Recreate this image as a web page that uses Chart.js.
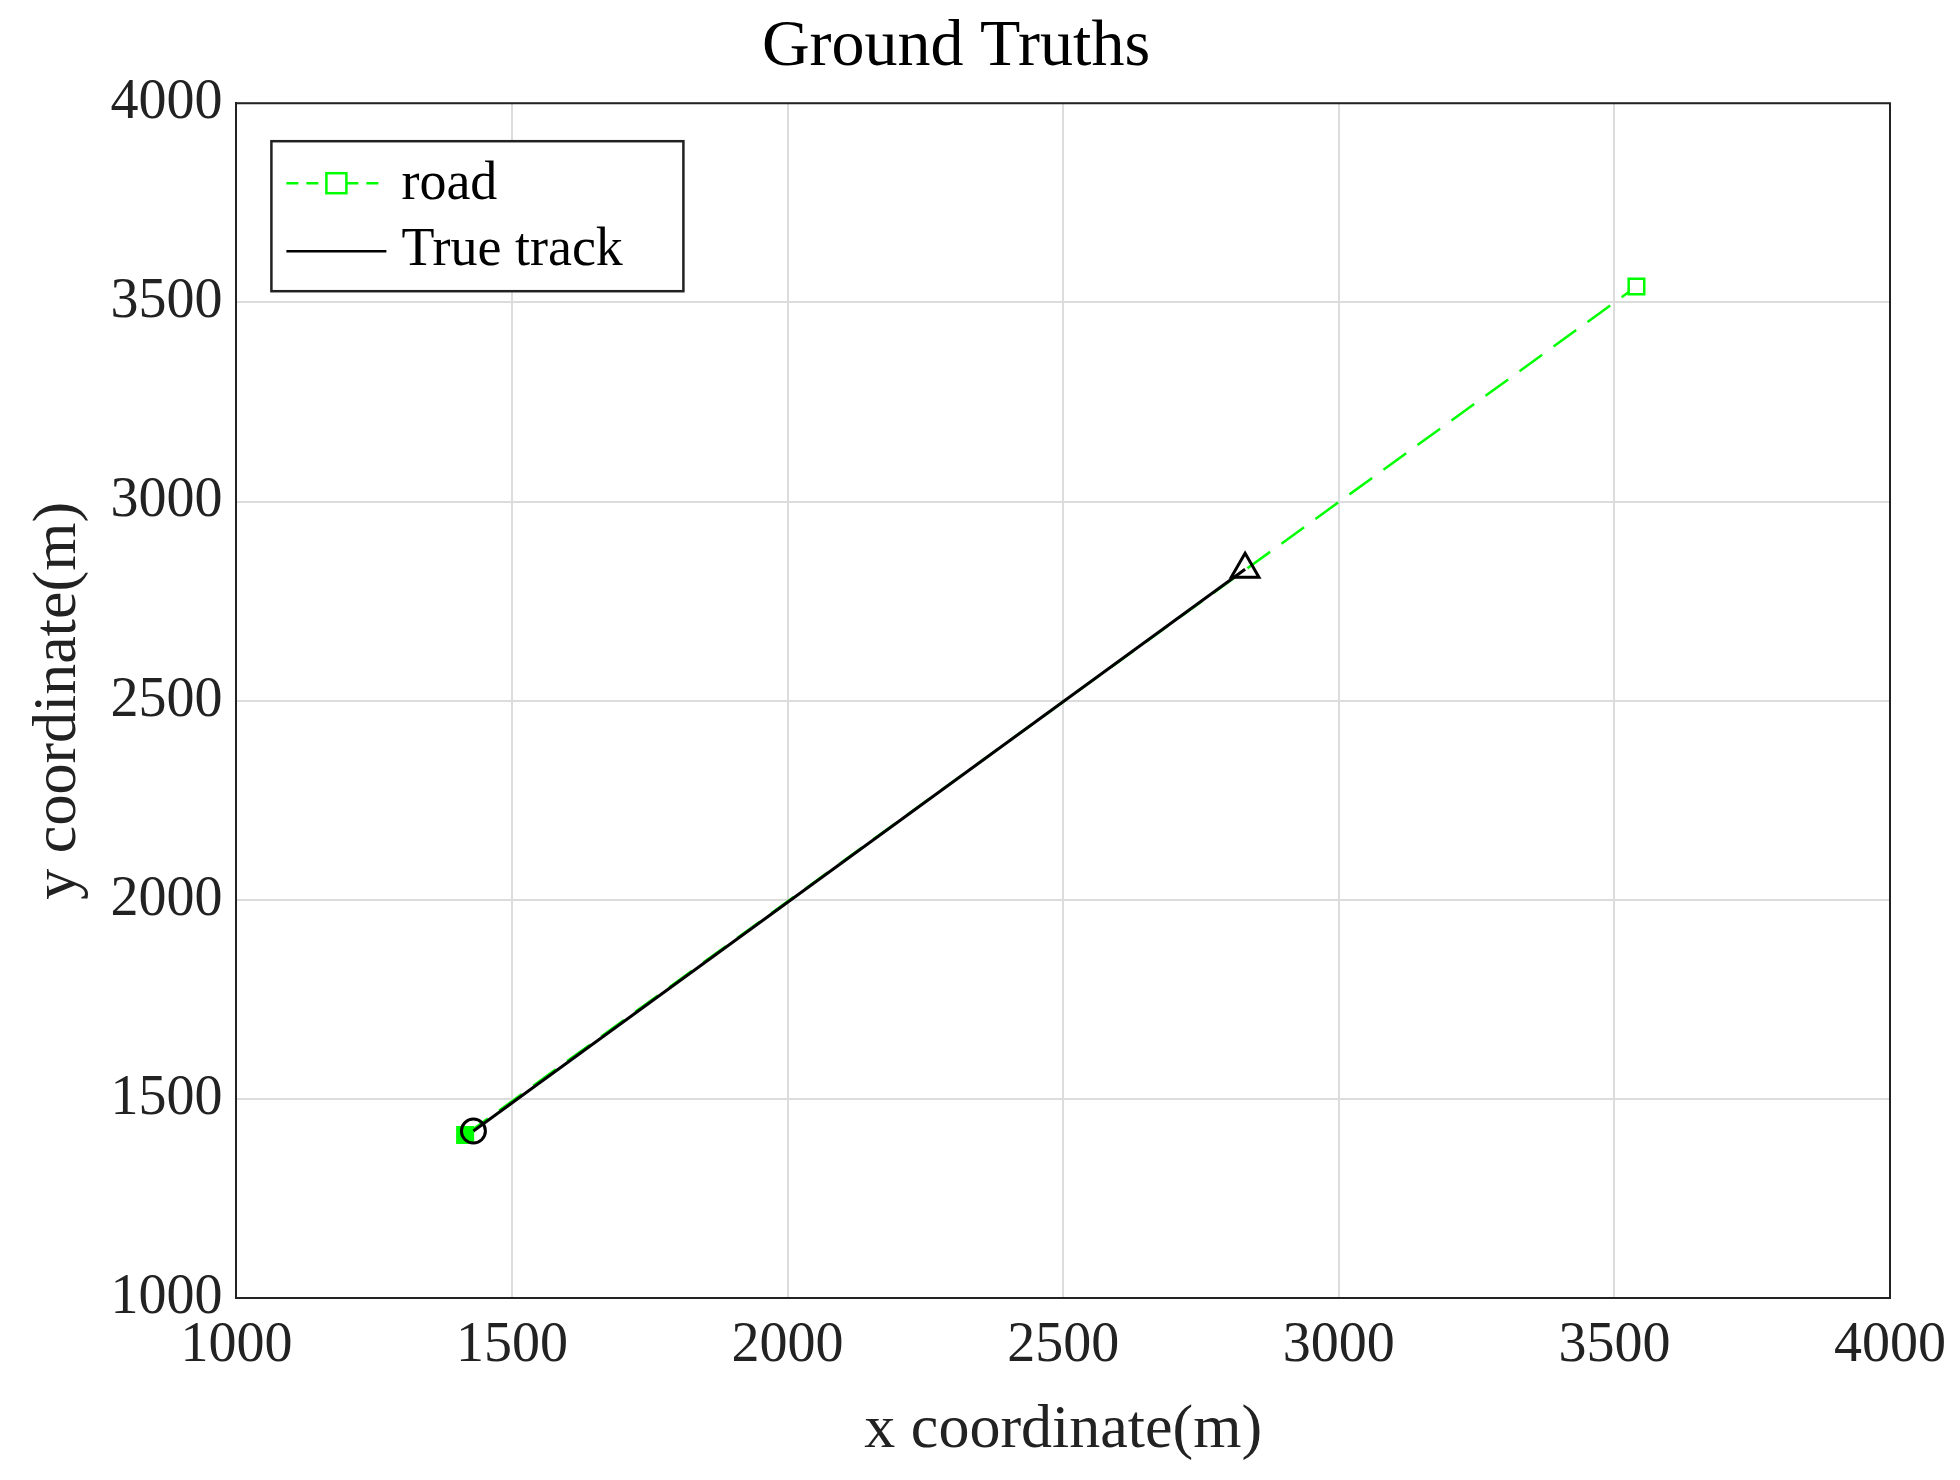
<!DOCTYPE html>
<html><head><meta charset="utf-8">
<script src="https://cdn.jsdelivr.net/npm/chart.js@4/dist/chart.umd.min.js"></script>
<style>body{margin:0;background:#fff}#wrap{width:1960px;height:1480px}</style>
</head><body><div id="wrap"><canvas id="c" width="1960" height="1480"></canvas></div>
<script>
const roadX = [1415, 3540];
const roadY = [1410, 3540];
const trackX = [1430, 2830];
const trackY = [1420, 2830];
const ticks = [1000, 1500, 2000, 2500, 3000, 3500, 4000];

const font = "'Liberation Serif', 'DejaVu Serif', serif";
const pts = (xs, ys) => xs.map((x, i) => ({x, y: ys[i]}));

new Chart(document.getElementById('c'), {
  type: 'scatter',
  data: {
    datasets: [
      {
        label: 'road', data: pts(roadX, roadY), showLine: true, order: 2,
        borderColor: '#00ff00', borderWidth: 2.5, borderDash: [28, 14],
        pointStyle: 'rect', pointRadius: 11, pointBorderWidth: 2.5,
        pointBackgroundColor: ['#00ff00', '#fff'], pointBorderColor: '#00ff00'
      },
      {
        label: 'True track', data: pts(trackX, trackY), showLine: true, order: 1,
        borderColor: '#000', borderWidth: 3,
        pointStyle: ['circle', 'triangle'], pointRadius: [12, 16], pointBorderWidth: 3,
        pointBackgroundColor: 'rgba(0,0,0,0)', pointBorderColor: '#000'
      }
    ]
  },
  options: {
    responsive: false, animation: false,
    layout: {padding: {right: 70, top: 8, left: 22, bottom: 12}},
    scales: {
      x: {
        min: 1000, max: 4000,
        afterBuildTicks: s => { s.ticks = ticks.map(v => ({value: v})); },
        grid: {color: '#dcdcdc', lineWidth: 2, drawTicks: false},
        border: {color: '#222', width: 2},
        ticks: {color: '#222', font: {family: font, size: 56}, padding: 14, maxRotation: 0, callback: v => String(v)},
        title: {display: true, text: 'x coordinate(m)', color: '#222', font: {family: font, size: 62}, padding: 0}
      },
      y: {
        min: 1000, max: 4000,
        afterBuildTicks: s => { s.ticks = ticks.map(v => ({value: v})); },
        grid: {color: '#dcdcdc', lineWidth: 2, drawTicks: false},
        border: {color: '#222', width: 2},
        ticks: {color: '#222', font: {family: font, size: 56}, padding: 14, callback: v => String(v)},
        title: {display: true, text: 'y coordinate(m)', color: '#222', font: {family: font, size: 62}, padding: 0}
      }
    },
    plugins: {
      title: {display: true, text: 'Ground Truths', color: '#000', font: {family: font, size: 66, weight: 'normal'}, padding: {top: 0, bottom: 16}},
      legend: {display: false},
      tooltip: {enabled: false}
    }
  },
  plugins: [{
    id: 'box',
    afterDraw(chart) {
      const ctx = chart.ctx, a = chart.chartArea;
      ctx.save();
      ctx.strokeStyle = '#222'; ctx.lineWidth = 2;
      ctx.beginPath();
      ctx.moveTo(a.left, a.top); ctx.lineTo(a.right, a.top); ctx.lineTo(a.right, a.bottom);
      ctx.stroke();
      // legend box
      const lx = a.left + 35, ly = a.top + 38, w = 412, h = 150;
      ctx.fillStyle = '#fff'; ctx.fillRect(lx, ly, w, h);
      ctx.lineWidth = 2.5; ctx.strokeRect(lx, ly, w, h);
      ctx.font = '54px ' + font; ctx.fillStyle = '#000'; ctx.textBaseline = 'middle';
      ctx.strokeStyle = '#00ff00'; ctx.setLineDash([12, 8]);
      ctx.beginPath(); ctx.moveTo(lx + 15, ly + 42); ctx.lineTo(lx + 115, ly + 42); ctx.stroke();
      ctx.setLineDash([]);
      ctx.fillStyle = '#fff'; ctx.fillRect(lx + 55, ly + 32, 20, 20); ctx.strokeRect(lx + 55, ly + 32, 20, 20);
      ctx.fillStyle = '#000'; ctx.fillText('road', lx + 130, ly + 44);
      ctx.strokeStyle = '#000';
      ctx.beginPath(); ctx.moveTo(lx + 15, ly + 110); ctx.lineTo(lx + 115, ly + 110); ctx.stroke();
      ctx.fillText('True track', lx + 130, ly + 110);
      ctx.restore();
    }
  }]
});
</script></body></html>
